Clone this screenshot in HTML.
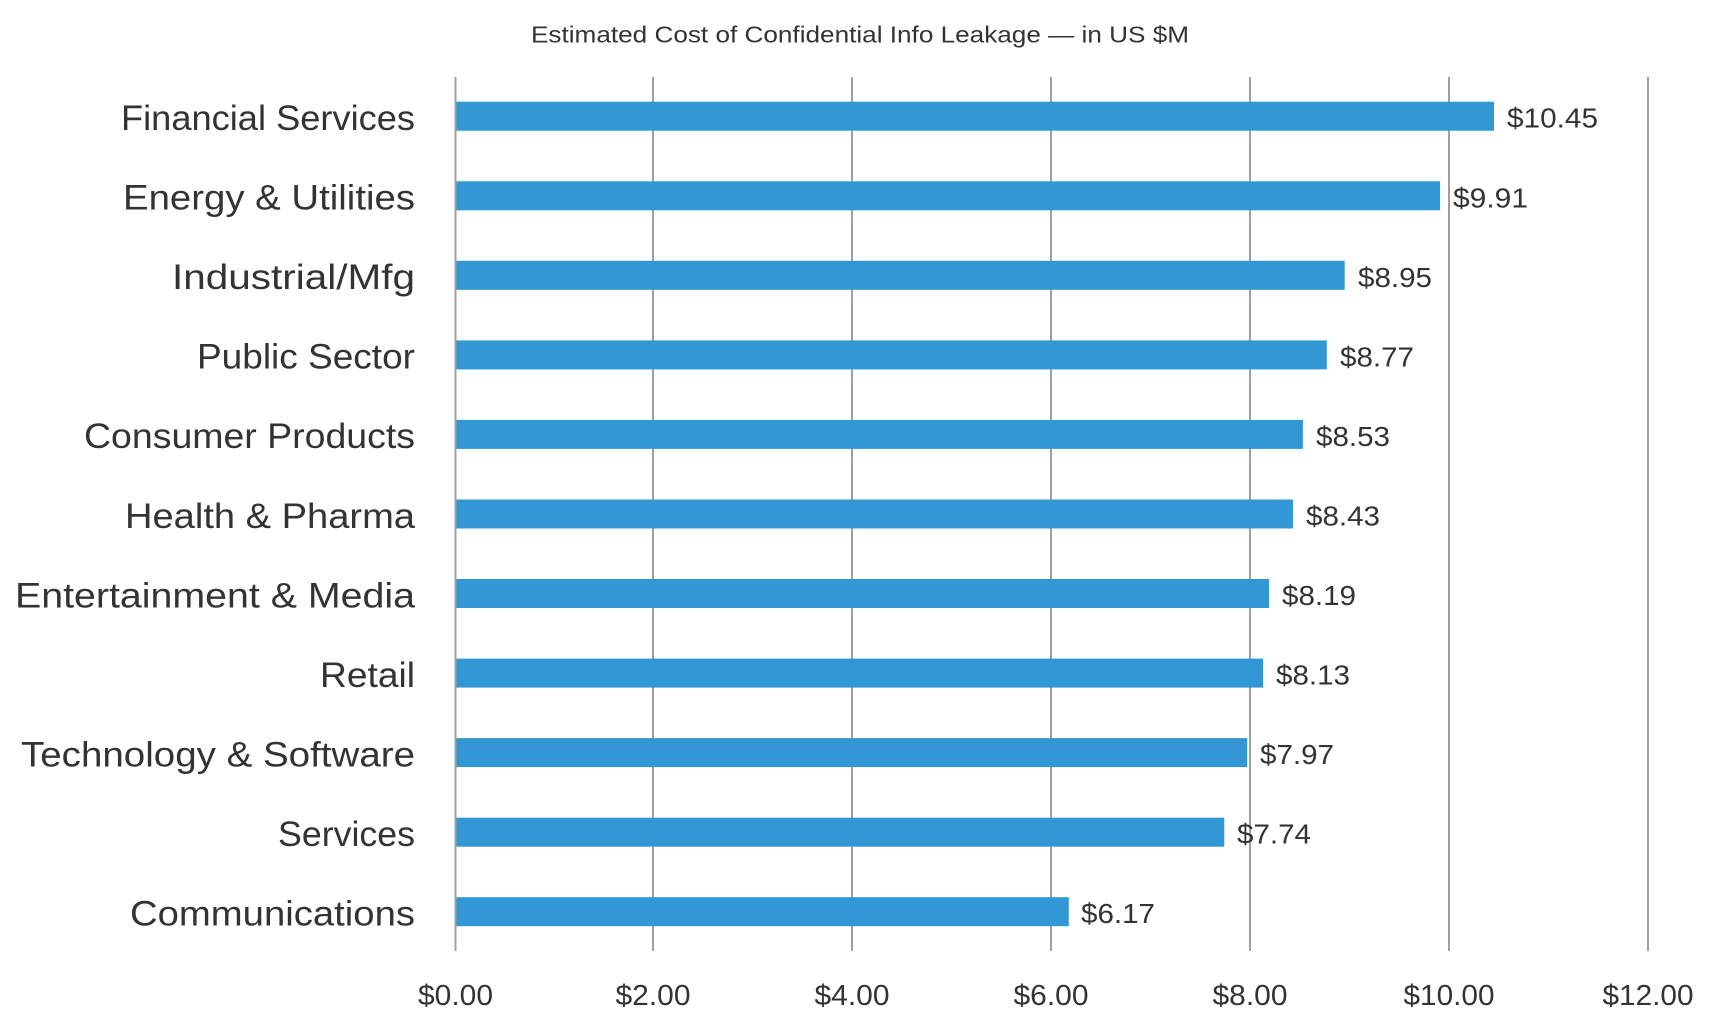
<!DOCTYPE html>
<html><head><meta charset="utf-8"><style>
html,body{margin:0;padding:0;background:#fff;}
svg{display:block;}
text{font-family:"Liberation Sans",sans-serif;fill:#333;}
</style></head><body>
<svg width="1717" height="1028" viewBox="0 0 1717 1028" xmlns="http://www.w3.org/2000/svg">
<text x="531" y="42.5" font-size="23" textLength="658" lengthAdjust="spacingAndGlyphs">Estimated Cost of Confidential Info Leakage — in US $M</text>
<g stroke="#a0a0a0" stroke-width="2">
<line x1="455.5" y1="77" x2="455.5" y2="951"/>
<line x1="653" y1="77" x2="653" y2="951"/>
<line x1="852" y1="77" x2="852" y2="951"/>
<line x1="1051" y1="77" x2="1051" y2="951"/>
<line x1="1250" y1="77" x2="1250" y2="951"/>
<line x1="1449" y1="77" x2="1449" y2="951"/>
<line x1="1648" y1="77" x2="1648" y2="951"/>
</g>
<g fill="#3298d5">
<rect x="456.5" y="101.7" width="1037.5" height="29"/>
<rect x="456.5" y="181.3" width="983.6" height="29"/>
<rect x="456.5" y="260.8" width="888.2" height="29"/>
<rect x="456.5" y="340.4" width="870.3" height="29"/>
<rect x="456.5" y="419.9" width="846.4" height="29"/>
<rect x="456.5" y="499.5" width="836.5" height="29"/>
<rect x="456.5" y="579.0" width="812.6" height="29"/>
<rect x="456.5" y="658.6" width="806.6" height="29"/>
<rect x="456.5" y="738.1" width="790.7" height="29"/>
<rect x="456.5" y="817.7" width="767.8" height="29"/>
<rect x="456.5" y="897.2" width="612.3" height="29"/>
</g>
<g font-size="35" text-anchor="end">
<text x="415" y="130" textLength="294" lengthAdjust="spacingAndGlyphs">Financial Services</text>
<text x="415" y="209.6" textLength="292" lengthAdjust="spacingAndGlyphs">Energy &amp; Utilities</text>
<text x="415" y="289.1" textLength="243" lengthAdjust="spacingAndGlyphs">Industrial/Mfg</text>
<text x="415" y="368.7" textLength="218" lengthAdjust="spacingAndGlyphs">Public Sector</text>
<text x="415" y="448.2" textLength="331" lengthAdjust="spacingAndGlyphs">Consumer Products</text>
<text x="415" y="527.8" textLength="290" lengthAdjust="spacingAndGlyphs">Health &amp; Pharma</text>
<text x="415" y="607.3" textLength="400" lengthAdjust="spacingAndGlyphs">Entertainment &amp; Media</text>
<text x="415" y="686.9" textLength="95" lengthAdjust="spacingAndGlyphs">Retail</text>
<text x="415" y="766.4" textLength="394" lengthAdjust="spacingAndGlyphs">Technology &amp; Software</text>
<text x="415" y="846" textLength="137" lengthAdjust="spacingAndGlyphs">Services</text>
<text x="415" y="925.5" textLength="285" lengthAdjust="spacingAndGlyphs">Communications</text>
</g>
<g font-size="28">
<text x="1507" y="127.7" textLength="91" lengthAdjust="spacingAndGlyphs">$10.45</text>
<text x="1453" y="207.3" textLength="75" lengthAdjust="spacingAndGlyphs">$9.91</text>
<text x="1358" y="286.8" textLength="74" lengthAdjust="spacingAndGlyphs">$8.95</text>
<text x="1340" y="366.4" textLength="74" lengthAdjust="spacingAndGlyphs">$8.77</text>
<text x="1316" y="445.9" textLength="74" lengthAdjust="spacingAndGlyphs">$8.53</text>
<text x="1306" y="525.5" textLength="74" lengthAdjust="spacingAndGlyphs">$8.43</text>
<text x="1282" y="605" textLength="74" lengthAdjust="spacingAndGlyphs">$8.19</text>
<text x="1276" y="684.6" textLength="74" lengthAdjust="spacingAndGlyphs">$8.13</text>
<text x="1260" y="764.1" textLength="74" lengthAdjust="spacingAndGlyphs">$7.97</text>
<text x="1237" y="843.7" textLength="74" lengthAdjust="spacingAndGlyphs">$7.74</text>
<text x="1081" y="923.2" textLength="74" lengthAdjust="spacingAndGlyphs">$6.17</text>
</g>
<g font-size="29" text-anchor="middle">
<text x="455.5" y="1005" textLength="75" lengthAdjust="spacingAndGlyphs">$0.00</text>
<text x="653" y="1005" textLength="75" lengthAdjust="spacingAndGlyphs">$2.00</text>
<text x="852" y="1005" textLength="75" lengthAdjust="spacingAndGlyphs">$4.00</text>
<text x="1051" y="1005" textLength="75" lengthAdjust="spacingAndGlyphs">$6.00</text>
<text x="1250" y="1005" textLength="75" lengthAdjust="spacingAndGlyphs">$8.00</text>
<text x="1449" y="1005" textLength="91" lengthAdjust="spacingAndGlyphs">$10.00</text>
<text x="1648" y="1005" textLength="91" lengthAdjust="spacingAndGlyphs">$12.00</text>
</g>
</svg>
</body></html>
